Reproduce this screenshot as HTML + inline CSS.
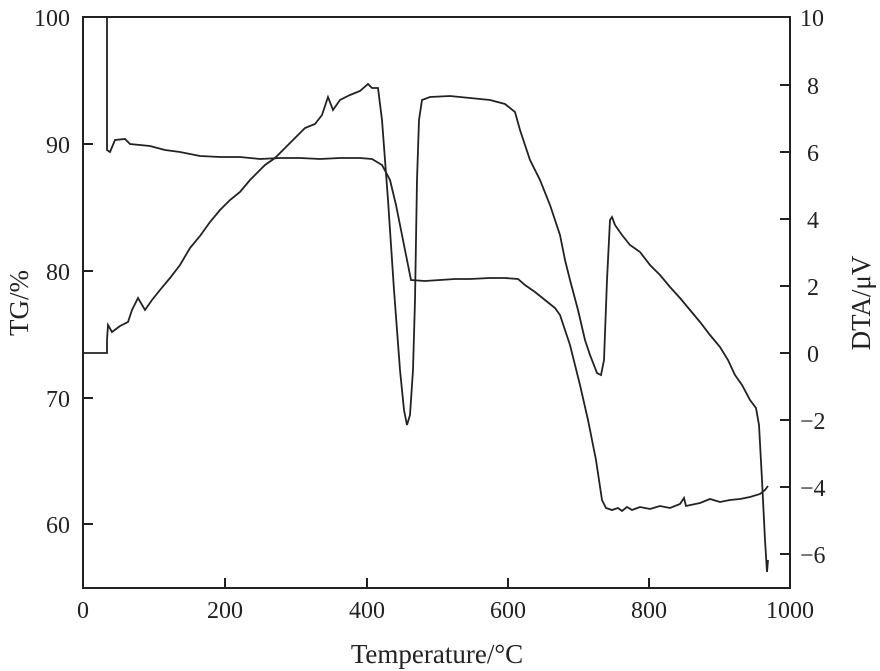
<!DOCTYPE html>
<html><head><meta charset="utf-8"><style>body{margin:0;background:#fff}svg{display:block}text{font-family:"Liberation Serif",serif;font-size:24px;fill:#222}</style></head>
<body>
<svg width="880" height="671" viewBox="0 0 880 671">
<g stroke="#222" stroke-width="2" fill="none">
<rect x="83" y="17" width="707" height="571"/>
<path d="M225 588v-10M367 588v-10M508 588v-10M649 588v-10M83 144h10M83 271h10M83 398h10M83 524h10M790 85h-10M790 152h-10M790 219h-10M790 286h-10M790 353h-10M790 420h-10M790 487h-10M790 554h-10"/>
<polyline stroke-width="1.8" points="107,18 107,150 110,152 115,140 125,139 130,144 150,146 165,150 180,152 200,156 220,157 240,157 260,159 280,158 300,158 320,159 340,158 360,158 372,159 382,165 390,180 396,205 402,235 407,260 411,280 425,281 440,280 455,279 470,279 490,278 505,278 518,279 525,285 535,292 545,300 555,308 560,315 570,345 580,385 588,420 596,460 602,500 606,508 612,510 618,508 622,511 627,507 632,510 640,507 650,509 660,506 670,508 680,504 684,498 686,506 700,503 710,499 720,502 730,500 740,499 750,497 760,494 765,490 768,486"/>
<polyline stroke-width="1.8" points="84,353 107,353 107,340 108,325 112,332 120,326 128,322 132,310 138,298 145,310 152,300 160,290 170,278 180,265 190,248 200,236 210,222 220,210 230,200 240,192 250,180 258,172 265,165 275,158 285,148 295,138 305,128 315,124 322,115 328,97 333,110 340,100 350,95 360,91 368,84 372,88 378,88 382,120 388,200 394,290 400,370 404,410 407,425 410,415 413,370 415,300 417,180 419,120 422,100 430,97 450,96 470,98 490,100 505,104 515,112 520,130 530,160 540,180 550,205 560,235 565,260 570,280 578,310 585,340 590,355 597,373 601,375 604,360 607,280 610,220 612,217 615,225 622,235 630,245 640,252 650,265 660,275 670,287 680,298 690,310 700,322 710,335 720,347 728,360 735,375 742,385 750,400 756,408 759,425 762,480 765,540 767,572 768,560"/>
</g>
<g text-anchor="end"><text x="70" y="26">100</text><text x="70" y="153">90</text><text x="70" y="280">80</text><text x="70" y="407">70</text><text x="70" y="533">60</text></g>
<g><text x="800" y="26">10</text><text x="807" y="94">8</text><text x="807" y="161">6</text><text x="807" y="228">4</text><text x="807" y="295">2</text><text x="807" y="362">0</text><text x="800" y="429">−2</text><text x="800" y="496">−4</text><text x="800" y="563">−6</text></g>
<g text-anchor="middle"><text x="83" y="618">0</text><text x="225" y="618">200</text><text x="367" y="618">400</text><text x="508" y="618">600</text><text x="649" y="618">800</text><text x="790" y="618">1000</text>
<text x="437" y="663" style="font-size:27px">Temperature/°C</text>
<text transform="translate(28,303) rotate(-90)" style="font-size:27px">TG/%</text>
<text transform="translate(870,303) rotate(-90)" style="font-size:27px">DTA/μV</text></g>
</svg>
</body></html>
